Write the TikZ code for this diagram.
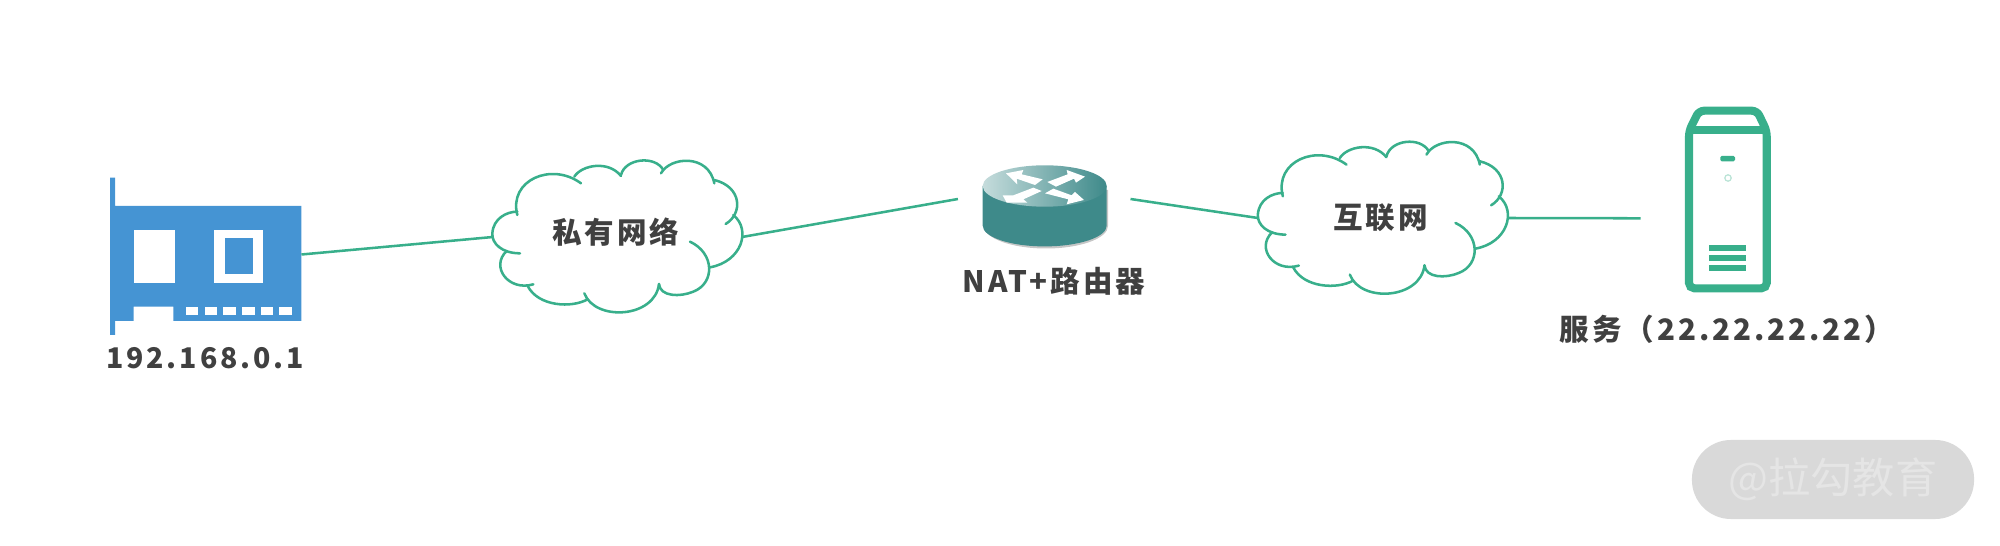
\documentclass[tikz,border=0pt]{standalone}
\usepackage{fontspec}
\newfontfamily\cjkwide[LetterSpace=10]{Noto Sans CJK SC}
\newfontfamily\cjkplain{Noto Sans CJK SC}
\definecolor{linegreen}{HTML}{38AF8B}
\definecolor{nicblue}{HTML}{4594D3}
\definecolor{routerteal}{HTML}{3E8A8A}
\definecolor{labelgray}{HTML}{404040}
\begin{document}
\begin{tikzpicture}[x=0.01cm,y=-0.01cm]
    \tikzset{
        iconbox/.style = {inner sep=0pt,outer sep=0pt},
        netlabel/.style = {iconbox,text=labelgray,font=\fontsize{8.4pt}{10pt}\cjkwide\bfseries},
        netline/.style = {draw=linegreen,line width=0.72pt},
        cloudline/.style = {draw=linegreen,line width=0.72pt,line cap=round,scale=0.3333},
        arrowwhite/.style = {fill=white,draw=none},
        cloudblob/.pic = {
            \draw[cloudline] (97,195) .. controls (70,90) and (200,35) .. (288,100);
            \draw[cloudline] (268,80) .. controls (290,45) and (370,30) .. (408,78);
            \draw[cloudline] (408,75) .. controls (420,25) and (510,15) .. (535,60);
            \draw[cloudline] (528,70) .. controls (555,20) and (670,10) .. (688,100);
            \draw[cloudline] (688,90) .. controls (770,110) and (775,190) .. (722,222);
            \draw[cloudline] (745,195) .. controls (800,240) and (770,335) .. (675,352);
            \draw[cloudline] (615,275) .. controls (690,310) and (690,400) .. (625,425)
                .. controls (585,442) and (525,440) .. (522,402);
            \draw[cloudline] (522,402) .. controls (510,505) and (330,515) .. (298,430);
            \draw[cloudline] (308,448) .. controls (260,475) and (160,470) .. (128,408);
            \draw[cloudline] (145,403) .. controls (70,425) and (15,350) .. (65,303);
            \draw[cloudline] (105,310) .. controls (50,310) and (20,280) .. (22,250)
                .. controls (25,205) and (65,185) .. (97,185);
        },
    }
    \useasboundingbox (0,0) rectangle (2000,546);
    % network card
    \node[iconbox,minimum width=1.914cm,minimum height=1.57cm] (nic) at (205.7,254.5) {};
    \fill[nicblue] (110,177.7) -- (115,177.7) -- (115,206) -- (301.4,206) -- (301.4,321)
        -- (173.3,321) -- (173.3,306.7) -- (133.6,306.7) -- (133.6,321) -- (115,321)
        -- (115,335) -- (110,335) -- cycle;
    \fill[white] (134,229.7) rectangle (174.6,283.3);
    \fill[white] (214.4,230) rectangle (263,282.7);
    \fill[nicblue] (224.6,238.3) rectangle (253,274);
    \foreach \slotx in {185.8,204.5,223.2,241.9,260.6,279.3}
        \fill[white] (\slotx,307.3) rectangle ++(12.6,8);
    \node[netlabel,font=\fontsize{8.1pt}{10pt}\cjkwide\bfseries] (niclabel) at (205,358) {192.168.0.1};
    % private network
    \pic at (485,150) {cloudblob};
    \node[netlabel,minimum width=2.49cm,minimum height=1cm] (lan) at (617.5,237) {};
    \node[netlabel] (lanlabel) at (615.7,231.7) {私有网络};
    % router
    \node[iconbox,minimum width=1.725cm,minimum height=0.8cm] (router) at (1044.2,199) {};
    \fill[gray!45] (984,190) -- (984,226) arc[start angle=180,end angle=0,x radius=62,y radius=22.5]
        -- (1108,190) -- cycle;
    \fill[routerteal] (982.7,186) -- (982.7,225.7)
        arc[start angle=180,end angle=0,x radius=62,y radius=20.7] -- (1106.7,186) -- cycle;
    \shade[left color=routerteal!30,middle color=routerteal,right color=routerteal]
        (1044.7,186) ellipse[x radius=62,y radius=20.7];
    \begin{scope}[shift={(970,156)},scale=0.3333]
        \fill[arrowwhite] (108,52) -- (160,42) -- (155,55) -- (218,70) -- (195,87) -- (140,68) -- (142,85) -- cycle;
        \fill[arrowwhite] (345,62) -- (290,42) -- (293,55) -- (232,78) -- (258,92) -- (312,68) -- (318,80) -- cycle;
        \fill[arrowwhite] (190,95) -- (215,105) -- (160,130) -- (172,140) -- (110,140) -- (98,118) -- (130,118) -- cycle;
        \fill[arrowwhite] (225,112) -- (250,98) -- (305,118) -- (315,108) -- (342,132) -- (290,145) -- (295,130) -- cycle;
    \end{scope}
    \node[netlabel] (routerlabel) at (1054,281) {NAT+路由器};
    % internet
    \pic at (1250.5,131.3) {cloudblob};
    \node[netlabel,minimum width=2.49cm,minimum height=1cm] (wan) at (1382.5,218) {};
    \node[netlabel] (wanlabel) at (1380.4,218) {互联网};
    % server
    \node[iconbox,minimum width=1.3cm,minimum height=1.8cm] (server) at (1705.7,218.3) {};
    \draw[linegreen,line width=2.3pt,rounded corners=1.5pt] (1689,131) -- (1699,110.7) -- (1757,110.7)
        -- (1766.7,131) -- (1766.7,288.3) -- (1689,288.3) -- cycle;
    \fill[linegreen] (1689,126) rectangle (1766.7,134.3);
    \fill[linegreen,rounded corners=0.4pt] (1720.3,156) rectangle (1735,161.3);
    \draw[linegreen!35,line width=0.35pt] (1728,178) circle[radius=3.2];
    \foreach \venty in {245.3,255.3,265.3}
        \fill[linegreen] (1709.3,\venty) rectangle (1746.3,\venty+6.2);
    \node[netlabel] (serverlabel) at (1727,329) {服务（22.22.22.22）};
    % connectors
    \draw[netline] (nic.east) -- (lan.west);
    \draw[netline] (lan.east) -- (router.west);
    \draw[netline] (router.east) -- (wan.west);
    \draw[netline] (wan.east) -- (server.west);
    % watermark
    \node[iconbox,fill=black!15,rounded corners=0.39cm,minimum width=2.82cm,minimum height=0.79cm,
        text=white!90!black,font=\fontsize{12pt}{14pt}\cjkplain] (mark) at (1833,479.5) {@拉勾教育};
\end{tikzpicture}
\end{document}
